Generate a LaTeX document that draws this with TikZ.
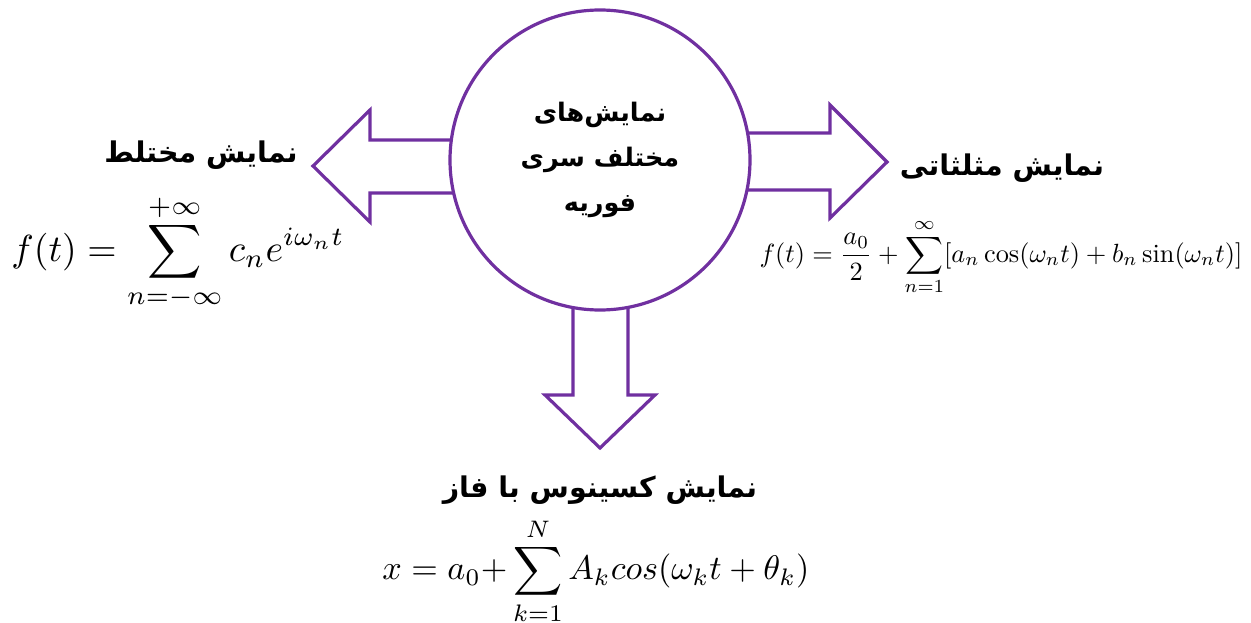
\documentclass[tikz,border=0pt]{standalone}
\usepackage{fontspec}
\usepackage{amsmath}
\newfontfamily\farsifont[Script=Arabic]{DejaVu Sans}
\TeXXeTstate=1
\definecolor{fourierpurple}{HTML}{7030A0}
\usetikzlibrary{positioning}

\begin{document}
\begin{tikzpicture}[x=1pt,y=-1pt,
  fatarrow/.style={draw=fourierpurple, line width=3.2pt, fill=white, line join=miter},
  hubcircle/.style={circle, draw=fourierpurple, line width=3.2pt, fill=white, minimum size=300pt, inner sep=0pt},
  farsilabel/.style={font=\farsifont\bfseries\fontsize{28.5}{34}\selectfont, inner sep=0pt},
  hubtextstyle/.style={font=\farsifont\bfseries\fontsize{25.5}{45}\selectfont, inner sep=0pt, align=center},
  formula/.style={inner sep=0pt}]
  \useasboundingbox (0,0) rectangle (1251,623);
  % fat arrows, drawn first so the circle covers their ends
  \draw[fatarrow] (460,140) -- (370,140) -- (370,110) -- (313,166) -- (370,222) -- (370,193) -- (460,193) -- cycle;
  \draw[fatarrow] (740,133) -- (830,133) -- (830,105) -- (887,162) -- (830,218) -- (830,190) -- (740,190) -- cycle;
  \draw[fatarrow] (573,300) -- (573,395) -- (545,395) -- (600,448) -- (655,395) -- (628,395) -- (628,300) -- cycle;
  % centre circle
  \node[hubcircle] (hub) at (600,160) {};
  \node[hubtextstyle] (hubtext) at (600,160)
    {\beginR نمایش‌های\endR\\\beginR مختلف سری\endR\\\beginR فوریه\endR};
  % complex form
  \node[farsilabel] (cplxlabel) at (201,155) {\beginR نمایش مختلط\endR};
  \node[formula] (cplxeq) at (178,253)
    {\resizebox{333pt}{!}{$\displaystyle f(t)=\sum_{n=-\infty}^{+\infty} c_n e^{i\omega_n t}$}};
  % trigonometric form
  \node[farsilabel] (triglabel) at (1002,168) {\beginR نمایش مثلثاتی\endR};
  \node[formula] (trigeq) at (1001,257)
    {\resizebox{483pt}{!}{$\displaystyle f(t)=\frac{a_0}{2}+\sum_{n=1}^{\infty}[a_n\cos(\omega_n t)+b_n\sin(\omega_n t)]$}};
  % cosine with phase
  \node[farsilabel] (phaselabel) at (600,490) {\beginR نمایش کسینوس با فاز\endR};
  \node[formula] (phaseeq) at (596,571)
    {\resizebox{427pt}{!}{$\displaystyle x=a_0{+}\sum_{k=1}^{N}A_k cos(\omega_k t+\theta_k)$}};
\end{tikzpicture}
\end{document}
